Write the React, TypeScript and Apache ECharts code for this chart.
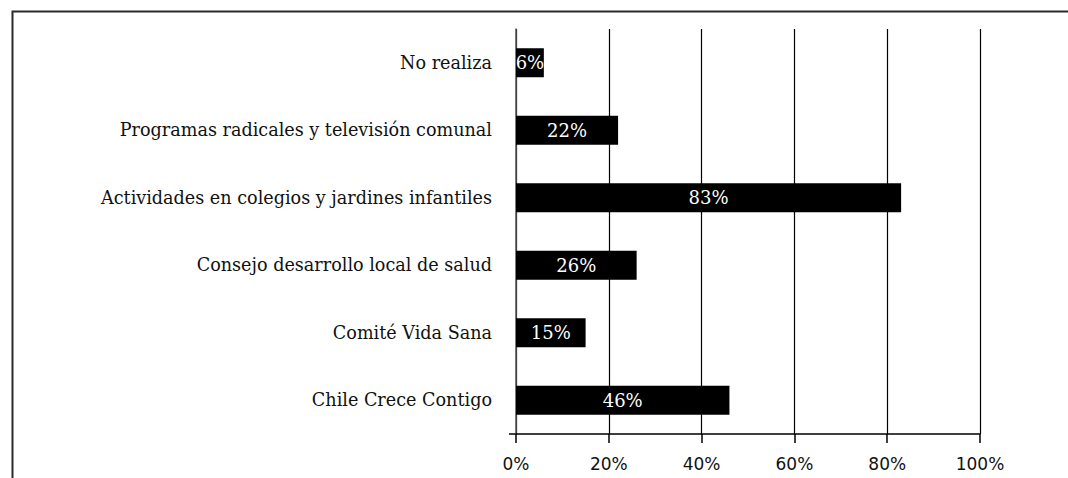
import React, { useEffect, useRef } from "react";
import * as echarts from "echarts";

const categories = [
  "Chile Crece Contigo",
  "Comité Vida Sana",
  "Consejo desarrollo local de salud",
  "Actividades en colegios y jardines infantiles",
  "Programas radicales y televisión comunal",
  "No realiza",
];
const values = [46, 15, 26, 83, 22, 6];
const xTicks = [0, 20, 40, 60, 80, 100];

export default function App() {
  const ref = useRef<HTMLDivElement>(null);
  useEffect(() => {
    if (!ref.current) return;
    const chart = echarts.init(ref.current, null, { renderer: "svg" });
    chart.setOption({
      animation: false,
      backgroundColor: "#ffffff",
      grid: { left: 516, right: 88, top: 29, bottom: 44, containLabel: false },
      xAxis: {
        type: "value",
        min: xTicks[0],
        max: xTicks[xTicks.length - 1],
        interval: 20,
        axisLine: { show: true, lineStyle: { color: "#000", width: 1.5 } },
        axisTick: { show: true, length: 9, lineStyle: { color: "#000", width: 1.5 } },
        splitLine: { show: true, lineStyle: { color: "#000", width: 1.2 } },
        axisLabel: {
          formatter: "{value}%",
          color: "#111",
          fontFamily: "DejaVu Sans",
          fontSize: 17,
          margin: 21,
        },
      },
      yAxis: {
        type: "category",
        data: categories,
        axisLine: { show: true, lineStyle: { color: "#555", width: 1.5 } },
        axisTick: { show: false },
        axisLabel: {
          color: "#111",
          fontFamily: "DejaVu Serif",
          fontSize: 17.6,
          margin: 24,
        },
      },
      series: [
        {
          type: "bar",
          data: values,
          barWidth: 29,
          itemStyle: { color: "#000" },
          label: {
            show: true,
            position: "inside",
            formatter: "{c}%",
            color: "#fff",
            fontFamily: "DejaVu Serif",
            fontSize: 18,
          },
        },
      ],
    });
    const x0 = chart.convertToPixel({ xAxisIndex: 0 }, xTicks[0]) as number;
    const c0 = chart.convertToPixel({ yAxisIndex: 0 }, categories[0]) as number;
    const c1 = chart.convertToPixel({ yAxisIndex: 0 }, categories[1]) as number;
    const yBottom = c0 + Math.abs(c0 - c1) / 2;
    chart.setOption({
      graphic: [
        {
          type: "rect",
          left: 10,
          top: 9,
          shape: { x: 0, y: 0, width: 1100, height: 520 },
          style: { fill: "none", stroke: "#2a2a2a", lineWidth: 2 },
          silent: true,
        },
        {
          type: "line",
          shape: { x1: x0 - 7, y1: yBottom, x2: x0, y2: yBottom },
          style: { stroke: "#000", lineWidth: 1.5 },
          silent: true,
        },
      ],
    });
    return () => chart.dispose();
  }, []);
  return <div ref={ref} style={{ width: 1068, height: 478, position: "absolute", left: 0, top: 0 }} />;
}
